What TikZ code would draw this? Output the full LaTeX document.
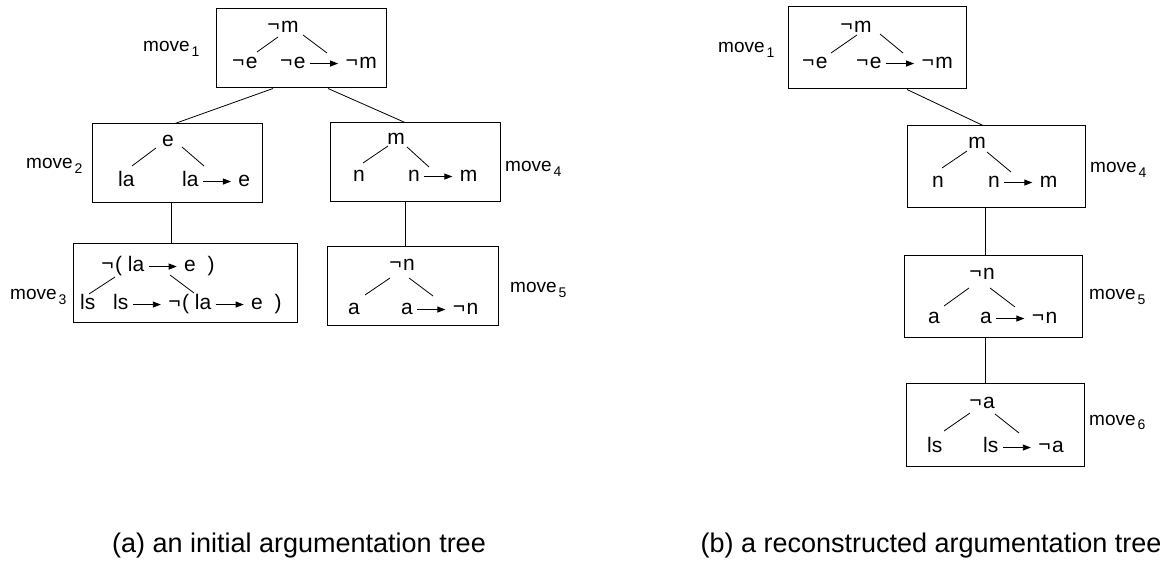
\documentclass[tikz,border=0pt]{standalone}
\usepackage{fontspec}
\setmainfont{Liberation Sans}
\usetikzlibrary{arrows.meta,calc}
% raised negation sign, as in the formulas
\newcommand\nt{\raisebox{0.08em}{¬}\kern1.5pt}
% implication arrow inside formulas
\newcommand\imp{\hspace{4pt}\tikz[baseline=-0.26em]\draw[line width=0.9pt,-{Triangle[length=8pt,width=6pt]}] (0pt,0pt) -- (28pt,0pt);\hspace{7pt}}
\newcommand\mv[1]{move\hspace{2pt}\raisebox{-5pt}{\fontsize{14}{14}\selectfont #1}}
\tikzset{
  mbox/.style={draw, line width=1pt, inner sep=0pt},
  lbl/.style={inner sep=0pt, font=\fontsize{21}{24}\selectfont},
  mlbl/.style={inner sep=0pt, anchor=base west, font=\fontsize{19}{22}\selectfont},
  br/.style={line width=0.8pt},
  conn/.style={line width=0.8pt},
  captxt/.style={inner sep=0pt, font=\fontsize{27}{30}\selectfont, anchor=base},
}
\begin{document}
\begin{tikzpicture}[x=1pt, y=-1pt]
\useasboundingbox (0,0) rectangle (1171,561);

% ---------------- (a) initial tree ----------------
\node[mbox, minimum width=170pt, minimum height=79pt] (b1) at (301,48.5) {};
\node[mbox, minimum width=170pt, minimum height=79pt] (b2) at (177,163.5) {};
\node[mbox, minimum width=224pt, minimum height=79pt] (b3) at (185,283.5) {};
\node[mbox, minimum width=170pt, minimum height=79pt] (b4) at (415,162.5) {};
\node[mbox, minimum width=171pt, minimum height=79pt] (b5) at (412.5,286.5) {};

% move 1
\node[lbl, anchor=base] (t1) at (283,33) {\nt m};
\node[lbl, anchor=base west] (l1) at (232,69) {\nt e};
\node[lbl, anchor=base west] (r1) at (280,69) {\nt e\imp\nt m};
\draw[br] ($(t1.base)+(-5,4)$) -- ($(l1.base west)+(25,-17)$);
\draw[br] ($(t1.base)+(20,2)$) -- ($(r1.base west)+(47,-16)$);
\node[mlbl] (m1) at (143,52) {\mv{1}};

% move 2
\node[lbl, anchor=base] (t2) at (168,147) {e};
\node[lbl, anchor=base west] (l2) at (118,187) {la};
\node[lbl, anchor=base west] (r2) at (182,187) {la\imp e};
\draw[br] ($(t2.base)+(-12,1)$) -- ($(l2.base west)+(14,-21)$);
\draw[br] ($(t2.base)+(14,0)$) -- ($(r2.base west)+(22,-21)$);
\node[mlbl] (m2) at (26,169) {\mv{2}};

% move 3
\node[lbl, anchor=base] (t3) at (158,272) {\nt( la\imp e \hspace{6pt})};
\node[lbl, anchor=base west] (l3) at (80,310) {ls};
\node[lbl, anchor=base west] (r3) at (113,310) {ls\imp\nt( la\imp e \hspace{6pt})};
\draw[br] ($(t3.base)+(-43,5)$) -- ($(l3.base west)+(9,-16)$);
\draw[br] ($(t3.base)+(12,3)$) -- ($(r3.base west)+(81,-17)$);
\node[mlbl] (m3) at (10,300) {\mv{3}};

% move 4
\node[lbl, anchor=base] (t4) at (396,145) {m};
\node[lbl, anchor=base west] (l4) at (353,182) {n};
\node[lbl, anchor=base west] (r4) at (408,182) {n\imp m};
\draw[br] ($(t4.base)+(-8,1)$) -- ($(l4.base west)+(10,-19)$);
\draw[br] ($(t4.base)+(11,2)$) -- ($(r4.base west)+(21,-15)$);
\node[mlbl] (m4) at (505,172) {\mv{4}};

% move 5
\node[lbl, anchor=base] (t5) at (402,271) {\nt n};
\node[lbl, anchor=base west] (l5) at (348,315) {a};
\node[lbl, anchor=base west] (r5) at (401,315) {a\imp\nt n};
\draw[br] ($(t5.base)+(-12,7)$) -- ($(l5.base west)+(17,-20)$);
\draw[br] ($(t5.base)+(7,7)$) -- ($(r5.base west)+(32,-19)$);
\node[mlbl] (m5) at (510,293) {\mv{5}};

% tree edges
\draw[conn] ([xshift=-28pt]b1.south) -- ([xshift=-2pt]b2.north);
\draw[conn] ([xshift=27pt]b1.south) -- ([xshift=-10pt]b4.north);
\draw[conn] ([xshift=-6pt]b2.south) -- ([xshift=-14pt]b3.north);
\draw[conn] ([xshift=-10pt]b4.south) -- ([xshift=-7.5pt]b5.north);

\node[captxt] (capa) at (299,552) {(a) an initial argumentation tree};

% ---------------- (b) reconstructed tree ----------------
\node[mbox, minimum width=178pt, minimum height=82pt] (c1) at (877,48) {};
\node[mbox, minimum width=178pt, minimum height=82pt] (c4) at (996,167) {};
\node[mbox, minimum width=178pt, minimum height=82pt] (c5) at (993,297) {};
\node[mbox, minimum width=178pt, minimum height=82pt] (c6) at (995,425) {};

% move 1
\node[lbl, anchor=base] (u1) at (856,33) {\nt m};
\node[lbl, anchor=base west] (p1) at (802,69) {\nt e};
\node[lbl, anchor=base west] (q1) at (856,69) {\nt e\imp\nt m};
\draw[br] ($(u1.base)+(1,2)$) -- ($(p1.base west)+(29,-16)$);
\draw[br] ($(u1.base)+(24,1)$) -- ($(q1.base west)+(47,-16)$);
\node[mlbl] (n1) at (718,53) {\mv{1}};

% move 4
\node[lbl, anchor=base] (u4) at (977,149) {m};
\node[lbl, anchor=base west] (p4) at (932,188) {n};
\node[lbl, anchor=base west] (q4) at (988,188) {n\imp m};
\draw[br] ($(u4.base)+(-10,2)$) -- ($(p4.base west)+(10,-20)$);
\draw[br] ($(u4.base)+(10,3)$) -- ($(q4.base west)+(23,-16)$);
\node[mlbl] (n4) at (1090,173) {\mv{4}};

% move 5
\node[lbl, anchor=base] (u5) at (982,280) {\nt n};
\node[lbl, anchor=base west] (p5) at (928,324) {a};
\node[lbl, anchor=base west] (q5) at (980,324) {a\imp\nt n};
\draw[br] ($(u5.base)+(-13,8)$) -- ($(p5.base west)+(16,-18)$);
\draw[br] ($(u5.base)+(8,8)$) -- ($(q5.base west)+(35,-17)$);
\node[mlbl] (n5) at (1089,300) {\mv{5}};

% move 6
\node[lbl, anchor=base] (u6) at (982,409) {\nt a};
\node[lbl, anchor=base west] (p6) at (927,453) {ls};
\node[lbl, anchor=base west] (q6) at (983,453) {ls\imp\nt a};
\draw[br] ($(u6.base)+(-12,4)$) -- ($(p6.base west)+(17,-22)$);
\draw[br] ($(u6.base)+(13,5)$) -- ($(q6.base west)+(36,-20)$);
\node[mlbl] (n6) at (1089,425) {\mv{6}};

% tree edges
\draw[conn] ([xshift=30pt]c1.south) -- ([xshift=-13pt]c4.north);
\draw[conn] ([xshift=-11pt]c4.south) -- ([xshift=-8pt]c5.north);
\draw[conn] ([xshift=-8pt]c5.south) -- ([xshift=-10pt]c6.north);

\node[captxt] (capb) at (931,552) {(b) a reconstructed argumentation tree};
\end{tikzpicture}
\end{document}
